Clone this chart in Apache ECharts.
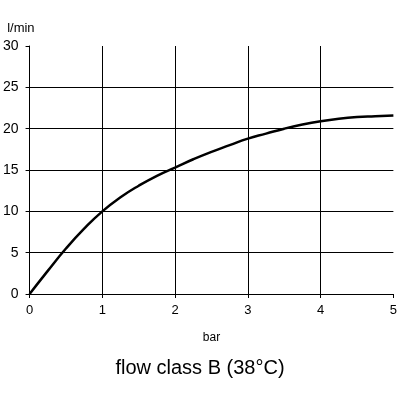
<!DOCTYPE html>
<html><head><meta charset="utf-8">
<script src="https://cdn.jsdelivr.net/npm/echarts@6/dist/echarts.min.js"></script>
<style>html,body{margin:0;padding:0;background:#fff}#c{width:400px;height:400px}</style>
</head><body><div id="c"></div>
<script>
var pressure = [0, 0.25, 0.5, 0.75, 1, 1.25, 1.5, 1.75, 2, 2.25, 2.5, 2.75, 3, 3.25, 3.5, 3.75, 4, 4.25, 4.5, 4.75, 5];
var flow = [0, 2.8, 5.5, 7.9, 10.0, 11.7, 13.1, 14.3, 15.3, 16.3, 17.2, 18.0, 18.8, 19.4, 20.0, 20.5, 20.9, 21.2, 21.4, 21.5, 21.6];
var xTitle = 'bar';
var yTitle = 'l/min';
var chartTitle = 'flow class B (38°C)';

var chart = echarts.init(document.getElementById('c'));
var font = 'Liberation Sans, Arial, sans-serif';
chart.setOption({
  animation: false,
  title: { text: chartTitle, left: 'center', top: 353, textStyle: { fontFamily: font, fontSize: 20, fontWeight: 'normal', color: '#000' } },
  grid: { left: 28, right: 4, top: 46, bottom: 106, containLabel: false },
  xAxis: {
    type: 'value', min: 0, max: 5, interval: 1,
    name: xTitle, nameLocation: 'middle', nameGap: 38,
    nameTextStyle: { fontFamily: font, fontSize: 12, color: '#000' },
    axisLine: { lineStyle: { color: '#000', width: 1 } },
    axisTick: { show: true, length: 4, lineStyle: { color: '#000' } },
    axisLabel: { fontFamily: font, fontSize: 13, color: '#000', margin: 10 },
    splitLine: { show: true, showMinLine: false, showMaxLine: false, lineStyle: { color: '#000', width: 1 } }
  },
  yAxis: {
    type: 'value', min: 0, max: 30, interval: 5,
    name: yTitle, nameLocation: 'end', nameGap: 11,
    nameTextStyle: { fontFamily: font, fontSize: 13, color: '#000', align: 'right', padding: [0, -5, 0, 0] },
    axisLine: { show: true, lineStyle: { color: '#000', width: 1 } },
    axisTick: { show: true, length: 4, lineStyle: { color: '#000' } },
    axisLabel: { fontFamily: font, fontSize: 14, color: '#000', margin: 11 },
    splitLine: { show: true, showMinLine: false, showMaxLine: false, lineStyle: { color: '#000', width: 1 } }
  },
  series: [{
    type: 'line', smooth: true, symbol: 'none',
    data: pressure.map(function (p, i) { return [p, flow[i]]; }),
    lineStyle: { color: '#000', width: 2.5 }
  }]
});
</script></body></html>
